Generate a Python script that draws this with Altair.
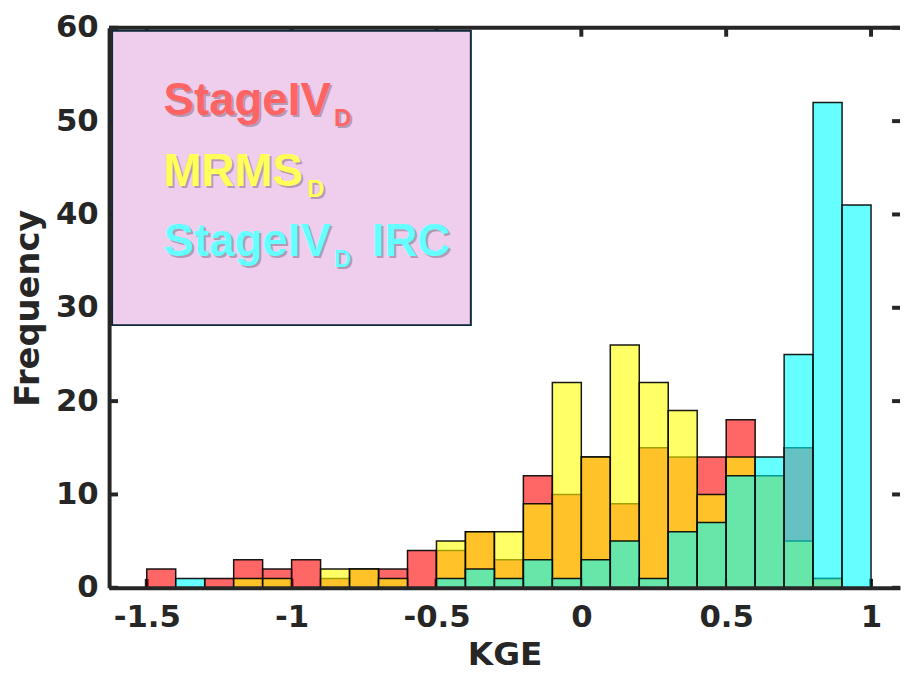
import altair as alt
import pandas as pd

# ---- data ----
bin_left = [-1.5, -1.4, -1.3, -1.2, -1.1, -1.0, -0.9, -0.8, -0.7, -0.6, -0.5, -0.4, -0.3,
            -0.2, -0.1, 0.0, 0.1, 0.2, 0.3, 0.4, 0.5, 0.6, 0.7, 0.8, 0.9]
bin_width = 0.1
stageiv_d = [2, 0, 1, 3, 2, 3, 1, 2, 2, 4, 4, 6, 3, 12, 10, 14, 9, 15, 14, 14, 18, 12, 15, 1, 0]
mrms_d = [0, 0, 0, 1, 1, 0, 2, 2, 1, 0, 5, 6, 6, 9, 22, 14, 26, 22, 19, 10, 14, 12, 5, 1, 0]
stageiv_d_irc = [0, 1, 0, 0, 0, 0, 0, 0, 0, 0, 1, 2, 1, 3, 1, 3, 5, 1, 6, 7, 12, 14, 25, 52, 41]

legend_main = ["StageIV", "MRMS", "StageIV"]
legend_sub = ["D", "D", "D"]
legend_suffix = ["", "", "IRC"]

x_ticks = [-1.5, -1, -0.5, 0, 0.5, 1]
y_ticks = [0, 10, 20, 30, 40, 50, 60]
x_domain = [-1.63, 1.1]
y_domain = [0, 60]

# ---- styling ----
W, H = 798, 565
INK = "#262626"
fills = ["#FF0000", "#FFFF00", "#00FFFF"]
text_cols = ["#FF6464", "#FFFF5A", "#66FFFF"]

xscale = alt.Scale(domain=x_domain, nice=False, zero=False)
yscale = alt.Scale(domain=y_domain, nice=False)

xaxis = alt.Axis(values=x_ticks, title="KGE",
                 labelExpr="replace(format(datum.value, '~g'), '\u2212', '-')",
                 labelFont="DejaVu Sans", labelFontWeight="bold", labelFontSize=31,
                 labelColor=INK, labelPadding=15, labelFlush=False,
                 ticks=False, tickSize=0, grid=False,
                 domainWidth=4, domainColor=INK, zindex=1,
                 titleFont="DejaVu Sans", titleFontWeight="bold", titleFontSize=33,
                 titleColor=INK, titleBaseline="alphabetic", titleY=77)
yaxis = alt.Axis(values=y_ticks, title="Frequency", format="d",
                 labelFont="DejaVu Sans", labelFontWeight="bold", labelFontSize=31,
                 labelColor=INK, labelPadding=11, labelFlush=False,
                 ticks=False, tickSize=0, grid=False,
                 domainWidth=4, domainColor=INK, zindex=1,
                 titleFont="DejaVu Sans", titleFontWeight="bold", titleFontSize=34,
                 titleColor=INK, titleAngle=270, titleBaseline="alphabetic",
                 titleAlign="center", titleX=-71, titleY=H / 2)


def bars(values, color):
    df = pd.DataFrame({"left": bin_left, "count": values})
    df["right"] = df["left"] + bin_width
    df = df[df["count"] > 0]
    return alt.Chart(df).mark_rect(
        fill=color, fillOpacity=0.6, stroke="#000000", strokeWidth=1.5, strokeOpacity=0.9
    ).encode(
        x=alt.X("left:Q", scale=xscale, axis=xaxis),
        x2="right:Q",
        y=alt.Y("count:Q", scale=yscale, axis=yaxis),
        y2=alt.datum(0),
    )


xt = pd.DataFrame({"v": x_ticks})
yt = pd.DataFrame({"v": y_ticks})
one = pd.DataFrame({"k": [0]})

tick_style = dict(color=INK, strokeWidth=4)
xticks_bottom = alt.Chart(xt).mark_rule(**tick_style).encode(
    x=alt.X("v:Q", scale=xscale, axis=xaxis), y=alt.value(H), y2=alt.value(H - 9))
xticks_top = alt.Chart(xt).mark_rule(**tick_style).encode(
    x=alt.X("v:Q", scale=xscale, axis=xaxis), y=alt.value(0), y2=alt.value(9))
yticks_left = alt.Chart(yt).mark_rule(**tick_style).encode(
    y=alt.Y("v:Q", scale=yscale, axis=yaxis), x=alt.value(0), x2=alt.value(9))
yticks_right = alt.Chart(yt).mark_rule(**tick_style).encode(
    y=alt.Y("v:Q", scale=yscale, axis=yaxis), x=alt.value(W - 8), x2=alt.value(W))

top_line = alt.Chart(one).mark_rule(color=INK, strokeWidth=4).encode(
    x=alt.value(0), x2=alt.value(W), y=alt.value(0))

legend_box = alt.Chart(one).mark_rect(
    fill="#EFCDEC", stroke="#0F2838", strokeWidth=2
).encode(x=alt.value(3), x2=alt.value(365), y=alt.value(3), y2=alt.value(300))


def label(txt, x, y, size, color):
    common = dict(text=txt, font="Liberation Sans", fontWeight="bold", fontSize=size,
                  align="left", baseline="alphabetic")
    shadow = alt.Chart(one).mark_text(color="#6E5E70", opacity=0.45, **common).encode(
        x=alt.value(x + 2), y=alt.value(y + 2))
    main = alt.Chart(one).mark_text(color=color, **common).encode(
        x=alt.value(x), y=alt.value(y))
    return [shadow, main]


main_y = [88, 160, 230]
sub_x = [227, 200, 227]
suffix_x = [None, None, 265]
legend_layers = [legend_box]
for i in range(3):
    legend_layers += label(legend_main[i], 55, main_y[i], 46, text_cols[i])
    legend_layers += label(legend_sub[i], sub_x[i], main_y[i] + 11, 24, text_cols[i])
    if legend_suffix[i]:
        legend_layers += label(legend_suffix[i], suffix_x[i], main_y[i], 46, text_cols[i])

chart = alt.layer(
    xticks_bottom, xticks_top, yticks_left, yticks_right,
    bars(stageiv_d, fills[0]), bars(mrms_d, fills[1]), bars(stageiv_d_irc, fills[2]),
    top_line, *legend_layers
).properties(
    width=W, height=H,
    padding={"left": 102, "top": 17, "right": 1, "bottom": 80},
    autosize=alt.AutoSizeParams(type="none"),
    background="white",
).configure_view(stroke=None)

chart.save("out.html", embed_options={"renderer": "svg", "actions": False})
